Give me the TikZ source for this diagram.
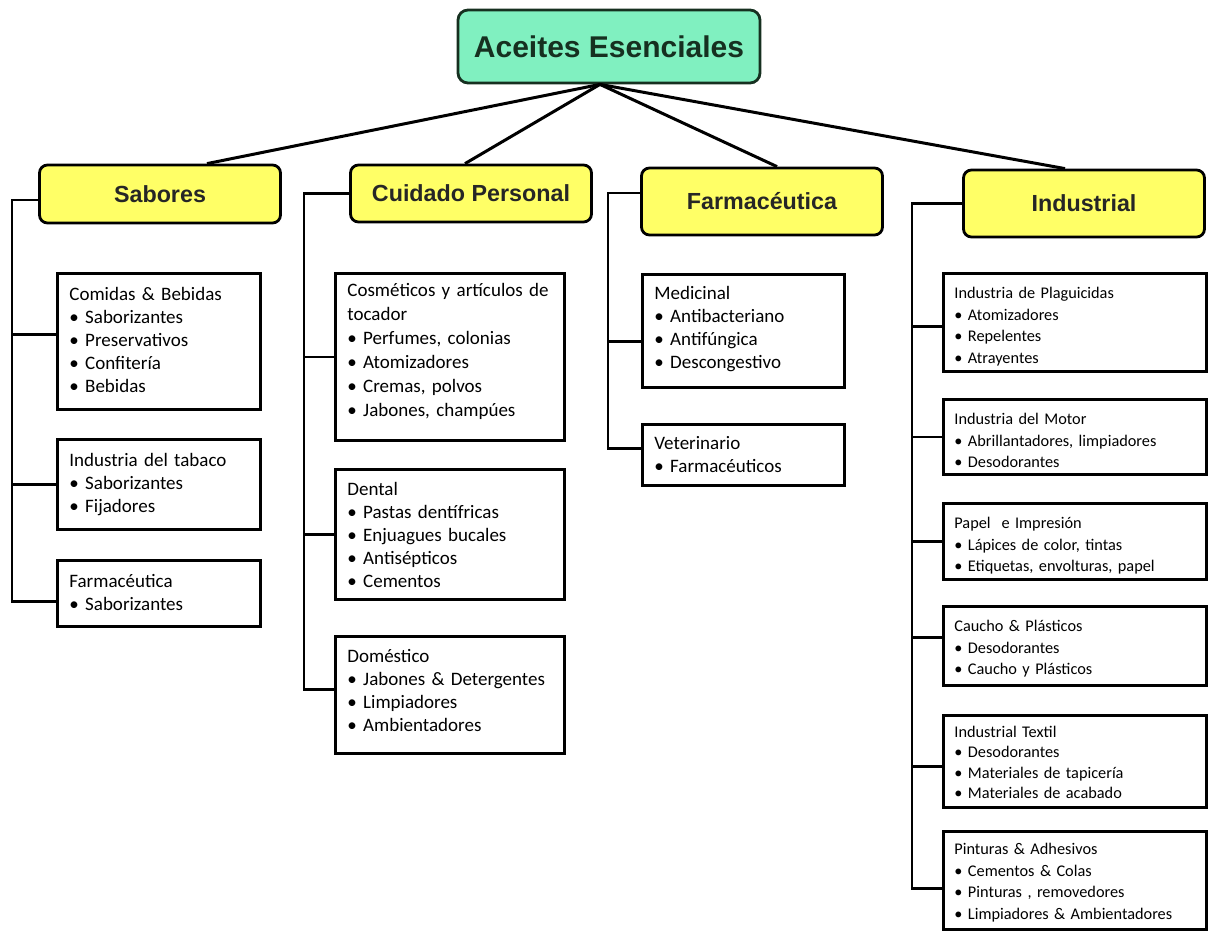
\documentclass[tikz,border=0pt]{standalone}
\usepackage{fontspec}
\setmainfont{Carlito}
\newfontfamily\titlefont{Liberation Sans}
\definecolor{rootgreen}{RGB}{128,240,192}
\definecolor{rootink}{RGB}{22,48,32}
\definecolor{catyellow}{RGB}{255,255,102}

\begin{document}
\begin{tikzpicture}[x=1pt, y=-1pt,
        root/.style = {draw=rootink, line width=2.8pt, fill=rootgreen, rounded corners=10pt, minimum width=302pt, minimum height=73pt, text=rootink, font=\titlefont\bfseries\fontsize{30}{30}\selectfont},
        cat/.style = {draw, line width=2.8pt, fill=catyellow, rounded corners=8pt, minimum width=241pt, text=black!85, font=\titlefont\bfseries\fontsize{23.3}{23.3}\selectfont},
        item/.style = {draw, line width=2.8pt, fill=white, anchor=north west, align=left, inner xsep=12pt, inner ysep=0pt, text height=27pt, font=\fontsize{19}{23}\selectfont},
        smallitem/.style = {item, inner xsep=11pt, text height=25pt, font=\fontsize{16.3}{21.7}\selectfont},
        link/.style = {line width=2.8pt}
    ]
        \useasboundingbox (0,0) rectangle (1213,930);

        \node[root] (root) at (609,46.5) {Aceites Esenciales};

        \node[cat, minimum height=58pt] (sab) at (160,194) {Sabores};
        \node[cat, minimum height=57pt] (cui) at (471,193.5) {Cuidado Personal};
        \node[cat, minimum height=67pt] (far) at (762,201.5) {Farmacéutica};
        \node[cat, minimum height=67pt] (ind) at (1084,203.5) {Industrial};

        \draw[link, line width=3pt] ([xshift=-9pt]root.south) -- ([xshift=47pt]sab.north);
        \draw[link, line width=3pt] ([xshift=-9pt]root.south) -- ([xshift=-6pt]cui.north);
        \draw[link, line width=3pt] ([xshift=-9pt]root.south) -- ([xshift=15pt]far.north);
        \draw[link, line width=3pt] ([xshift=-9pt]root.south) -- ([xshift=-19pt]ind.north);

        \node[item, text width=179pt, text depth=109pt] (sabA) at (56,272) {Comidas \& Bebidas\\• Saborizantes\\• Preservativos\\• Confitería\\• Bebidas};
        \node[item, text width=179pt, text depth=63pt] (sabB) at (56,438) {Industria del tabaco\\• Saborizantes\\• Fijadores};
        \node[item, text width=179pt, text depth=39pt] (sabC) at (56,559) {Farmacéutica\\• Saborizantes};

        \node[item, text width=205pt, text height=23pt, text depth=144pt, font=\fontsize{19}{24}\selectfont] (cuiA) at (334,272) {Cosméticos y artículos de\\tocador\\• Perfumes, colonias\\• Atomizadores\\• Cremas, polvos\\• Jabones, champúes};
        \node[item, text width=205pt, text height=26pt, text depth=104pt] (cuiB) at (334,468) {Dental\\• Pastas dentífricas\\• Enjuagues bucales\\• Antisépticos\\• Cementos};
        \node[item, text width=205pt, text height=26pt, text depth=91pt] (cuiC) at (334,635) {Doméstico\\• Jabones \& Detergentes\\• Limpiadores\\• Ambientadores};

        \node[item, text width=178pt, text height=25pt, text depth=88pt] (farA) at (641,273) {Medicinal\\• Antibacteriano\\• Antifúngica\\• Descongestivo};
        \node[item, text width=178pt, text height=25pt, text depth=36pt] (farB) at (641,423) {Veterinario\\• Farmacéuticos};

        \node[smallitem, text width=241pt, text depth=73pt] (indA) at (942,272) {Industria de Plaguicidas\\• Atomizadores\\• Repelentes\\• Atrayentes};
        \node[smallitem, text width=241pt, text depth=50pt] (indB) at (942,398) {Industria del Motor\\• Abrillantadores, limpiadores\\• Desodorantes};
        \node[smallitem, text width=241pt, text depth=51pt] (indC) at (942,502) {Papel~ e Impresión\\• Lápices de color, tintas\\• Etiquetas, envolturas, papel};
        \node[smallitem, text width=241pt, text depth=54pt] (indD) at (942,605) {Caucho \& Plásticos\\• Desodorantes\\• Caucho y Plásticos};
        \node[smallitem, text width=241pt, text height=22pt, text depth=70pt, font=\fontsize{16.3}{20.4}\selectfont] (indE) at (942,714) {Industrial Textil\\• Desodorantes\\• Materiales de tapicería\\• Materiales de acabado};
        \node[smallitem, text width=241pt, text height=23pt, text depth=75pt] (indF) at (942,830) {Pinturas \& Adhesivos\\• Cementos \& Colas\\• Pinturas , removedores\\• Limpiadores \& Ambientadores};

        \draw[link] ([yshift=-6pt]sab.west) -| ([xshift=-44pt,yshift=-8pt]sabC.west) -- ([yshift=-8pt]sabC.west);
        \draw[link] ([yshift=7pt]sabA.west) -- ++(-44,0);
        \draw[link] (sabB.west) -- ++(-44,0);

        \draw[link] (cui.west) -| ([xshift=-30pt,yshift=5.5pt]cuiC.west) -- ([yshift=5.5pt]cuiC.west);
        \draw[link] (cuiA.west) -- ++(-30,0);
        \draw[link] (cuiB.west) -- ++(-30,0);

        \draw[link] ([yshift=8.5pt]far.west) -| ([xshift=-33pt,yshift=6.5pt]farB.west) -- ([yshift=6.5pt]farB.west);
        \draw[link] ([yshift=-10.5pt]farA.west) -- ++(-33,0);

        \draw[link] (ind.west) -| ([xshift=-30pt,yshift=-8pt]indF.west) -- ([yshift=-8pt]indF.west);
        \draw[link] ([yshift=-4pt]indA.west) -- ++(-30,0);
        \draw[link] (indB.west) -- ++(-30,0);
        \draw[link] (indC.west) -- ++(-30,0);
        \draw[link] ([yshift=8.5pt]indD.west) -- ++(-30,0);
        \draw[link] ([yshift=-5pt]indE.west) -- ++(-30,0);
    \end{tikzpicture}
\end{document}
